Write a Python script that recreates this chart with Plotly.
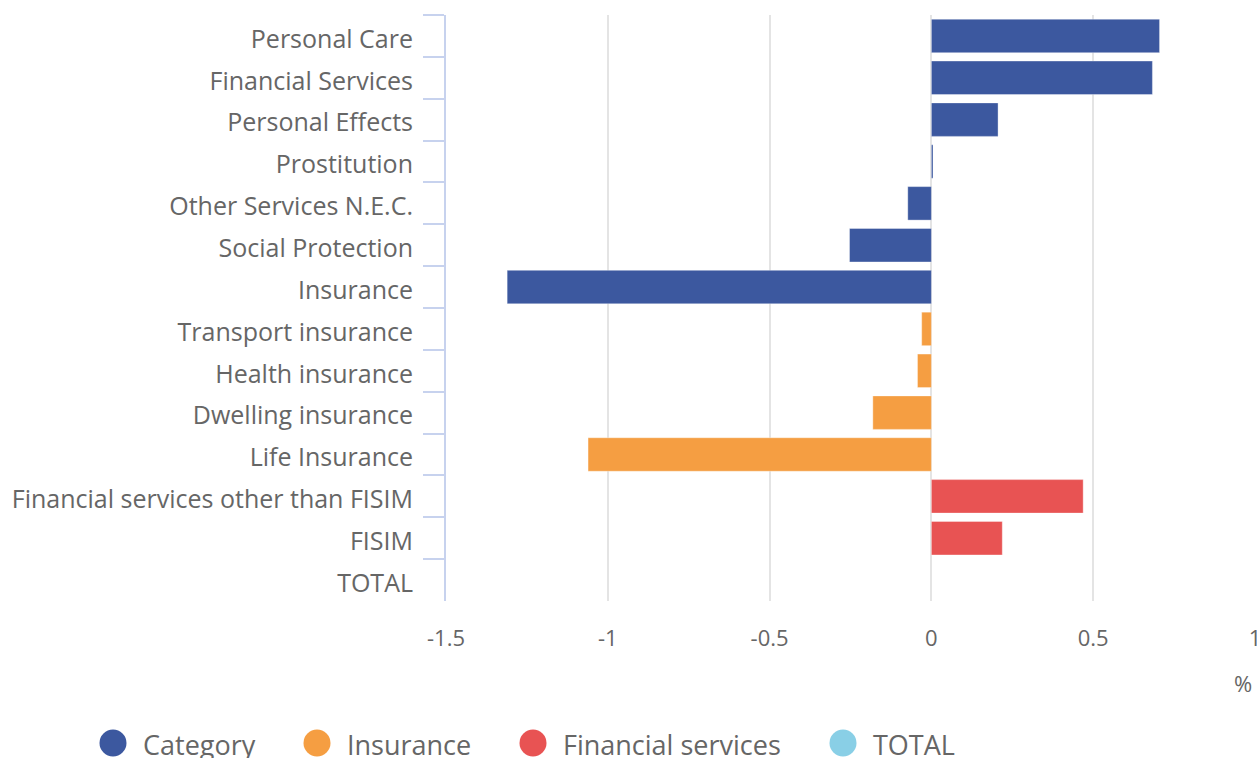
import plotly.graph_objects as go

categories = ["Personal Care", "Financial Services", "Personal Effects", "Prostitution",
              "Other Services N.E.C.", "Social Protection", "Insurance",
              "Transport insurance", "Health insurance", "Dwelling insurance", "Life Insurance",
              "Financial services other than FISIM", "FISIM", "TOTAL"]

cat_labels = ["Personal Care", "Financial Services", "Personal Effects", "Prostitution",
              "Other Services N.E.C.", "Social Protection", "Insurance"]
cat_values = [0.705, 0.683, 0.206, 0.005, -0.073, -0.253, -1.311]

ins_labels = ["Transport insurance", "Health insurance", "Dwelling insurance", "Life Insurance"]
ins_values = [-0.030, -0.043, -0.181, -1.061]

fin_labels = ["Financial services other than FISIM", "FISIM"]
fin_values = [0.469, 0.219]

total_labels = ["TOTAL"]
total_values = [None]

x_tickvals = [-1.5, -1, -0.5, 0, 0.5, 1]
x_ticktext = ["-1.5", "-1", "-0.5", "0", "0.5", "1"]

series_names = ["Category", "Insurance", "Financial services", "TOTAL"]
series_colors = ["#3c589f", "#f59e42", "#e85353", "#89cfe6"]
series_data = [(cat_labels, cat_values), (ins_labels, ins_values),
               (fin_labels, fin_values), (total_labels, total_values)]

FONT = "Open Sans"
GREY = "#666666"

W, H = 1257, 758
ML, MR, MT, MB = 446, 2, 15, 157
PW, PH = W - ML - MR, H - MT - MB


def px_to_paper_x(px):
    return (px - ML) / PW


def px_to_paper_y(py):
    return (H - MB - py) / PH


fig = go.Figure()
for name, (labs, vals), col in zip(series_names, series_data, series_colors):
    fig.add_trace(go.Bar(
        x=vals, y=labs, orientation="h", name=name, showlegend=False,
        marker=dict(color=col, line=dict(color="rgba(255,255,255,0.35)", width=1)),
        width=0.8,
    ))

# manual legend with large circle markers
legend_circle_x = [113, 317, 533, 843]
legend_y = 743
shapes = []
annotations = []
for name, col, cx in zip(series_names, series_colors, legend_circle_x):
    shapes.append(dict(type="circle", xref="paper", yref="paper",
                       xsizemode="pixel", ysizemode="pixel",
                       xanchor=px_to_paper_x(cx), yanchor=px_to_paper_y(legend_y),
                       x0=-13.5, x1=13.5, y0=-13.5, y1=13.5,
                       fillcolor=col, line=dict(width=0)))
    annotations.append(dict(text=name, xref="paper", yref="paper",
                            x=px_to_paper_x(cx + 28), xanchor="left",
                            y=px_to_paper_y(legend_y + 1), yanchor="middle",
                            showarrow=False, font=dict(size=27, color=GREY, family=FONT)))

annotations.append(dict(text="%", x=1, xref="paper", xanchor="right", xshift=-1,
                        y=px_to_paper_y(683), yref="paper", yanchor="middle",
                        showarrow=False, font=dict(size=22, color=GREY, family=FONT)))

fig.update_layout(
    width=W, height=H,
    margin=dict(l=ML, r=MR, t=MT, b=MB),
    paper_bgcolor="white", plot_bgcolor="white",
    font=dict(family=FONT, color=GREY, size=20),
    barmode="overlay",
    showlegend=False,
    shapes=shapes,
    annotations=annotations,
)
fig.update_xaxes(range=[-1.5, 1], tickvals=x_tickvals, ticktext=x_ticktext,
                 showgrid=True, gridcolor="#e4e4e4", gridwidth=2, automargin=False,
                 zeroline=False, showline=False, ticks="outside", ticklen=18,
                 tickcolor="rgba(0,0,0,0)", ticklabeloverflow="allow",
                 tickfont=dict(size=22, color=GREY))
fig.update_yaxes(type="category", categoryorder="array", categoryarray=categories,
                 autorange="reversed", showline=True, linecolor="#c7d2ee", linewidth=2,
                 ticks="outside", ticklen=21, tickcolor="#c7d2ee", tickwidth=2,
                 tickson="boundaries", showgrid=False, ticklabelstandoff=26,
                 automargin=False, ticklabelshift=-3,
                 tickfont=dict(size=25, color=GREY))

fig.write_html("out.html", config={"displayModeBar": False},
               post_script="document.body.style.margin='0';")
